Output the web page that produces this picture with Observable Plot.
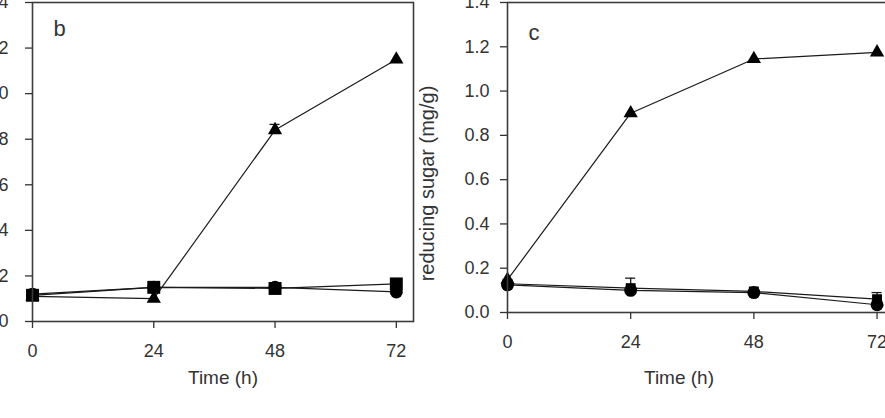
<!DOCTYPE html>
<html><head><meta charset="utf-8">
<script src="https://cdn.jsdelivr.net/npm/d3@7"></script>
<script src="https://cdn.jsdelivr.net/npm/@observablehq/plot@0.6"></script>
<style>
html,body{margin:0;padding:0;width:885px;height:418px;overflow:hidden;background:#fff;}
#wrap{position:relative;width:885px;height:418px;overflow:hidden;}
#b,#c{position:absolute;top:0;}
#b{left:-48px;width:468px;} #c{left:420px;width:480px;}
#b svg,#c svg{max-width:none !important;}
</style></head><body><div id="wrap"><div id="b"></div><div id="c"></div></div>
<script>
const hours = [0, 24, 48, 72];
const xTicks = [0, 24, 48, 72];
const yTicks = [0, 0.2, 0.4, 0.6, 0.8, 1.0, 1.2, 1.4];
// panel b
const bTriangle = [0.11, 0.10, 0.84, 1.15];
const bTriangleErr = [0, 0, 0.025, 0];
const bSquare = [0.115, 0.15, 0.145, 0.165];
const bCircle = [0.12, 0.15, 0.15, 0.13];
// panel c
const cTriangle = [0.148, 0.90, 1.145, 1.175];
const cSquare = [0.13, 0.11, 0.095, 0.06];
const cSquareErr = [0, 0.045, 0, 0.03];
const cCircle = [0.125, 0.10, 0.09, 0.035];
const xLabel = "Time (h)";
const cYLabel = "reducing sugar (mg/g)";

const INK = "#1a1a1a";
function rows(vals, errs) { return hours.map((h, i) => ({x: h, y: vals[i], e: errs ? errs[i] : 0})); }

function panel(o) {
  const marks = [];
  for (const s of o.series) {
    marks.push(Plot.line(s.data, {x: "x", y: "y", stroke: INK, strokeWidth: 1.2}));
  }
  for (const s of o.series) {
    const er = s.data.filter(d => d.e > 0);
    if (er.length) {
      marks.push(Plot.ruleX(er, {x: "x", y1: "y", y2: d => d.y + d.e, stroke: INK, strokeWidth: 1.3}));
      marks.push(Plot.ruleY(er, {y: d => d.y + d.e, x1: "x", x2: "x", insetLeft: -5, insetRight: -5, stroke: INK, strokeWidth: 1.3}));
    }
  }
  for (const s of o.series) {
    marks.push(Plot.dot(s.data, {x: "x", y: "y", symbol: s.symbol, r: s.r, fill: "#000"}));
  }
  marks.push(Plot.frame({stroke: "#3c3c3c", strokeWidth: 1.6}));
  marks.push(Plot.axisX({ticks: xTicks, tickFormat: d => String(d), tickSize: 7, tickPadding: 16, label: null, strokeWidth: 1.3, fontSize: 18}));
  marks.push(Plot.axisY({ticks: yTicks, tickFormat: d3.format(".1f"), tickSize: 7, tickPadding: o.yPad, label: null, strokeWidth: 1.3, fontSize: 18}));
  marks.push(Plot.text([o.letter], {text: d => d, frameAnchor: "top-left", textAnchor: "start", lineAnchor: "middle", dx: 21, dy: o.letterDy, fontSize: 22}));
  marks.push(Plot.text([xLabel], {text: d => d, frameAnchor: "bottom", textAnchor: "middle", lineAnchor: "middle", dx: o.timeDx, dy: o.timeDy, fontSize: 19}));
  if (o.yLabel) marks.push(Plot.text([o.yLabel], {text: d => d, frameAnchor: "left", textAnchor: "middle", lineAnchor: "middle", rotate: -90, dx: -80, dy: 26, fontSize: 20}));
  return Plot.plot({
    width: o.width, height: 418,
    marginTop: 2, marginLeft: o.marginLeft, marginRight: o.marginRight, marginBottom: o.marginBottom,
    x: {domain: [0, 75.4]},
    y: {domain: [0, 1.4]},
    style: {fontFamily: "'Liberation Sans', Arial, sans-serif", fontSize: "18px", color: "#333", background: "transparent", overflow: "visible", maxWidth: "none"},
    marks
  });
}

document.getElementById("b").append(panel({
  series: [
    {data: rows(bTriangle, bTriangleErr), symbol: "triangle", r: 5.3},
    {data: rows(bSquare), symbol: "square", r: 7.3},
    {data: rows(bCircle), symbol: "circle", r: 6.5}
  ],
  width: 468, marginLeft: 80, marginRight: 7, marginBottom: 97, yPad: 17,
  letter: "b", letterDy: 26, timeDx: 0, timeDy: 56
}));

document.getElementById("c").append(panel({
  series: [
    {data: rows(cTriangle), symbol: "triangle", r: 5.3},
    {data: rows(cSquare, cSquareErr), symbol: "square", r: 5.6},
    {data: rows(cCircle), symbol: "circle", r: 6.5}
  ],
  width: 480, marginLeft: 87, marginRight: 6, marginBottom: 106, yPad: 11,
  letter: "c", letterDy: 30, timeDx: -22, timeDy: 65, yLabel: cYLabel
}));
</script></body></html>
